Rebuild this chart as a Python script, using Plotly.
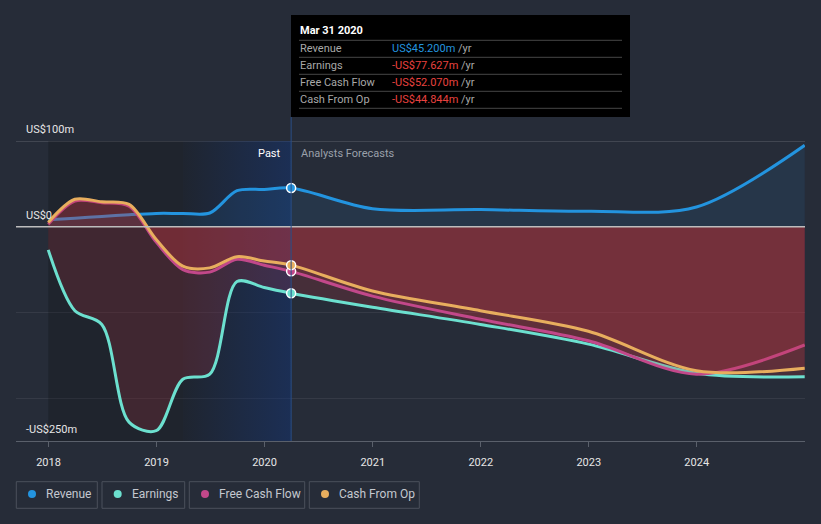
import plotly.graph_objects as go

# ---------------- data ----------------
dates = ["2017-12-31", "2018-03-31", "2018-06-30", "2018-09-30", "2018-12-31",
         "2019-03-31", "2019-06-30", "2019-09-30", "2019-12-31", "2020-03-31",
         "2020-12-31", "2021-12-31", "2022-12-31", "2023-12-31", "2024-12-31"]
revenue = [8, 10, 12, 14, 15.5, 15.5, 16, 42, 43.5, 45.2, 21, 20, 18, 23, 95]
earnings = [-27, -98, -114, -228, -238, -178, -172, -64, -71, -77.627, -94, -114, -137, -171, -175]
fcf = [3, 30, 28, 24, -18, -50, -53, -38, -45, -52.07, -81, -108, -133, -172, -138]
cfo = [5, 32, 29, 26, -15, -46, -48, -35, -40, -44.844, -75, -98, -122, -168, -165]

series_names = ["Revenue", "Earnings", "Free Cash Flow", "Cash From Op"]
series_colors = ["#2394df", "#6ce0cf", "#c2488a", "#e8ae5e"]
tooltip_values = ["US$45.200m", "-US$77.627m", "-US$52.070m", "-US$44.844m"]
tooltip_date = "Mar 31 2020"
y_labels = {100: "US$100m", 0: "US$0", -250: "-US$250m"}
x_ticks = ["2018", "2019", "2020", "2021", "2022", "2023", "2024"]

BG = "#262c38"

# pixel -> paper helpers (plot area 16..805 x 141..441)
def px(x):
    return (x - 16) / 789.0

def py(y):
    return (441 - y) / 300.0

fig = go.Figure()

# past shading (dark) and last-year blue gradient
fig.add_trace(go.Scatter(
    x=["2017-12-31", "2020-03-31", "2020-03-31", "2017-12-31"],
    y=[100, 100, -250, -250], fill="toself", mode="none",
    fillcolor="rgba(0,0,0,0.18)", hoverinfo="skip", showlegend=False))
fig.add_trace(go.Scatter(
    x=["2019-03-31", "2020-03-31", "2020-03-31", "2019-03-31"],
    y=[100, 100, -250, -250], fill="toself", mode="none",
    fillgradient=dict(type="horizontal",
                      colorscale=[[0, "rgba(20,70,170,0.02)"], [1, "rgba(20,70,170,0.32)"]]),
    hoverinfo="skip", showlegend=False))

fills = ["rgba(35,148,223,0.10)", "rgba(200,55,65,0.20)",
         "rgba(200,55,65,0.20)", "rgba(200,55,65,0.20)"]
data = [revenue, earnings, fcf, cfo]
for name, col, vals, fc in zip(series_names, series_colors, data, fills):
    fig.add_trace(go.Scatter(
        x=dates, y=vals, mode="lines", name=name,
        line=dict(color=col, width=3, shape="spline", smoothing=0.9),
        fill="tozeroy", fillcolor=fc, hoverinfo="skip", showlegend=False))

# markers at tooltip date
for name, col, vals in zip(series_names, series_colors, data):
    i = dates.index("2020-03-31")
    fig.add_trace(go.Scatter(
        x=[dates[i]], y=[vals[i]], mode="markers",
        marker=dict(color=col, size=9, line=dict(color="white", width=1.5)),
        hoverinfo="skip", showlegend=False))

shapes = []
annotations = []

# zero line
shapes.append(dict(type="line", xref="paper", yref="y", x0=0, x1=1, y0=0, y1=0,
                   line=dict(color="#bdbdbd", width=1.5), layer="above"))
# top gridline 100m
shapes.append(dict(type="line", xref="paper", yref="y", x0=0, x1=1, y0=100, y1=100,
                   line=dict(color="rgba(255,255,255,0.25)", width=1), layer="below"))
# vertical marker line
shapes.append(dict(type="line", xref="x", yref="paper", x0="2020-03-31", x1="2020-03-31",
                   y0=0, y1=py(117), line=dict(color="#2a4f86", width=1), layer="above"))

# y labels
for v, t in y_labels.items():
    ypix = 227 - v * 0.857 - 12
    annotations.append(dict(text=t, xref="paper", yref="paper", x=px(24), y=py(ypix),
                            xanchor="left", yanchor="middle", showarrow=False,
                            font=dict(color="#e6e6e6", size=11)))

# Past / Analysts Forecasts
annotations.append(dict(text="Past", xref="paper", yref="paper", x=px(283), y=py(153),
                        xanchor="right", yanchor="middle", showarrow=False,
                        font=dict(color="#ffffff", size=11)))
annotations.append(dict(text="Analysts Forecasts", xref="paper", yref="paper", x=px(299), y=py(153),
                        xanchor="left", yanchor="middle", showarrow=False,
                        font=dict(color="#9aa0aa", size=11)))

# tooltip box
shapes.append(dict(type="rect", xref="paper", yref="paper", x0=px(291), x1=px(630),
                   y0=py(117), y1=py(15), fillcolor="#000000", line=dict(width=0), layer="above"))
for yl in [40.3, 57.3, 74.3, 91.3, 108.3]:
    shapes.append(dict(type="line", xref="paper", yref="paper", x0=px(299), x1=px(622),
                       y0=py(yl), y1=py(yl), line=dict(color="#474747", width=1), layer="above"))
annotations.append(dict(text="<b>" + tooltip_date + "</b>", xref="paper", yref="paper",
                        x=px(298), y=py(31), xanchor="left", yanchor="middle", showarrow=False,
                        font=dict(color="#ffffff", size=11)))
row_y = [48.5, 65.5, 82.5, 99.5]
for name, val, yy, col in zip(series_names, tooltip_values, row_y, series_colors):
    vcol = "#2394df" if not val.startswith("-") else "#e8423f"
    annotations.append(dict(text=name, xref="paper", yref="paper", x=px(298), y=py(yy),
                            xanchor="left", yanchor="middle", showarrow=False,
                            font=dict(color="#a8a8a8", size=11)))
    annotations.append(dict(text='<span style="color:%s">%s</span> /yr' % (vcol, val),
                            xref="paper", yref="paper", x=px(390), y=py(yy),
                            xanchor="left", yanchor="middle", showarrow=False,
                            font=dict(color="#a8a8a8", size=11)))

# custom legend
legend_boxes = [(16.3, 97.3), (102, 184.7), (189.3, 304.7), (309.3, 419.3)]
dot_x = [32, 117.7, 205, 325]
text_x = [44, 130, 217, 337]
for (x0, x1), dx, tx, name, col in zip(legend_boxes, dot_x, text_x, series_names, series_colors):
    shapes.append(dict(type="rect", xref="paper", yref="paper", x0=px(x0), x1=px(x1),
                       y0=py(508.3), y1=py(481.7), line=dict(color="#4b515c", width=1),
                       fillcolor="rgba(0,0,0,0)"))
    shapes.append(dict(type="circle", xref="paper", yref="paper", x0=px(dx - 4), x1=px(dx + 4),
                       y0=py(498), y1=py(490), fillcolor=col, line=dict(width=0)))
    annotations.append(dict(text=name, xref="paper", yref="paper", x=px(tx), y=py(494.5),
                            xanchor="left", yanchor="middle", showarrow=False,
                            font=dict(color="#c4c8cf", size=12)))

fig.update_layout(
    width=821, height=524, autosize=False,
    margin=dict(l=16, r=16, t=141, b=83),
    paper_bgcolor=BG, plot_bgcolor=BG,
    font=dict(family="Roboto", color="#e6e6e6", size=11),
    showlegend=False,
    shapes=shapes, annotations=annotations,
    xaxis=dict(type="date", range=["2017-09-13", "2025-01-01"],
               tickvals=[t + "-01-01" for t in x_ticks], ticktext=x_ticks,
               showgrid=False, zeroline=False, showline=True, linecolor="#5a606b", linewidth=1,
               ticks="outside", ticklen=5, tickcolor="#5a606b",
               tickfont=dict(color="#e6e6e6", size=11), ticklabelstandoff=6,
               fixedrange=True),
    yaxis=dict(range=[-250, 100], tickvals=[-200, -100], showticklabels=False,
               showgrid=True, gridcolor="rgba(255,255,255,0.07)", zeroline=False,
               fixedrange=True),
)

fig.write_html(
    "out.html",
    config={"displayModeBar": False},
    post_script="document.body.style.margin='0';document.body.style.padding='0';"
                "document.body.style.background='%s';document.body.style.overflow='hidden';" % BG,
)
